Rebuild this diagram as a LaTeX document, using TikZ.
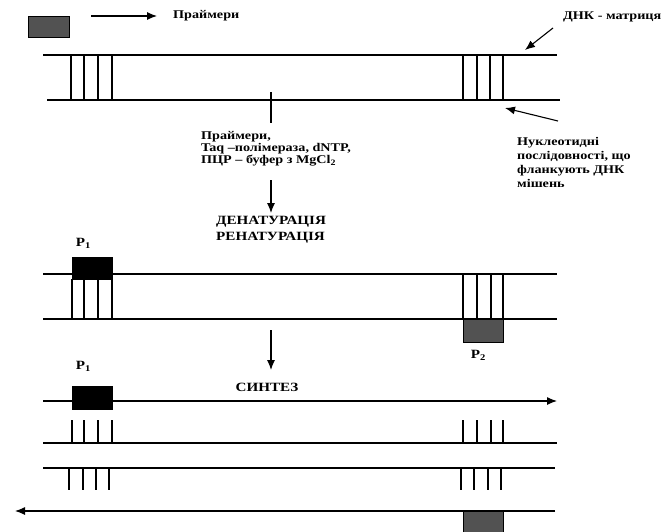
\documentclass[tikz,border=0pt]{standalone}
\usepackage{fontspec}
\setmainfont[FakeStretch=1.2]{Liberation Serif}
\usetikzlibrary{arrows.meta}
\begin{document}
\begin{tikzpicture}[x=1pt,y=-1pt,
  lbl/.style={font=\bfseries\fontsize{11.8}{12}\selectfont, inner sep=0pt, anchor=west},
  big/.style={font=\bfseries\fontsize{12.6}{16}\selectfont, inner sep=0pt},
  strand/.style={line width=1.1pt},
  rung/.style={line width=1.1pt},
  boxg/.style={draw=black, fill=black!68, line width=0.8pt, inner sep=0pt, anchor=north west},
  boxk/.style={draw=black, fill=black, line width=0.8pt, inner sep=0pt, anchor=north west},
  arr/.style={-{Latex[length=10pt,width=8pt]}, line width=1.1pt}]
\useasboundingbox (0,0) rectangle (667,531);
% legend
\node[boxg, minimum width=41pt, minimum height=21pt] (legbox) at (28,16) {};
\coordinate (la) at (91,16);
\node[lbl] (primers) at (173,16) {Праймери};
\draw[arr, shorten >=16pt] (la) -- (primers.west);
\node[lbl] (matrix) at (563,17) {ДНК - матриця};
\coordinate (ma) at (553,28);
\coordinate (mb) at (525,50);
\draw[arr] (ma) -- (mb);
% first duplex
\coordinate (t1a) at (43,55); \coordinate (t1b) at (557,55);
\coordinate (b1a) at (47,100); \coordinate (b1b) at (560,100);
\draw[strand] (t1a) -- (t1b);
\draw[strand] (b1a) -- (b1b);
\foreach \x in {71,84,98,112,463,477,490,503} \draw[rung] (\x,55) -- (\x,100);
\coordinate (tk1) at (271,92); \coordinate (tk2) at (271,123);
\draw[strand] (tk1) -- (tk2);
\coordinate (fa) at (558,121); \coordinate (fb) at (505,108);
\draw[arr] (fa) -- (fb);
\node[lbl, anchor=north west, align=left, font=\bfseries\fontsize{11.8}{12}\selectfont] (reagents) at (201,131) {Праймери,\\Taq –полімераза, dNTP,\\ПЦР – буфер з MgCl$_\mathbf{2}$};
\node[lbl, anchor=north west, align=left, font=\bfseries\fontsize{11.8}{14}\selectfont] (flank) at (517,137) {Нуклеотидні\\послідовності, що\\фланкують ДНК\\мішень};
\coordinate (d1) at (271,180); \coordinate (d2) at (271,213);
\draw[arr] (d1) -- (d2);
\node[big, anchor=north west, align=left] (denat) at (216,216) {ДЕНАТУРАЦІЯ\\РЕНАТУРАЦІЯ};
% second duplex
\node[big] (p1a) at (83,243) {P$_\mathbf{1}$};
\draw[strand] (43,274) -- (557,274);
\draw[strand] (43,319) -- (557,319);
\foreach \x in {72,84,98,112} \draw[rung] (\x,279) -- (\x,319);
\foreach \x in {463,477,491,503} \draw[rung] (\x,274) -- (\x,319);
\node[boxk, minimum width=40pt, minimum height=22pt] (pr1) at (72,257) {};
\node[boxg, minimum width=40pt, minimum height=23pt] (pr2) at (463,319) {};
\node[big] (p2) at (478,355) {P$_\mathbf{2}$};
\coordinate (s1) at (271,330); \coordinate (s2) at (271,370);
\draw[arr] (s1) -- (s2);
% synthesis
\node[big] (p1b) at (83,366) {P$_\mathbf{1}$};
\node[big] (synth) at (267,387) {СИНТЕЗ};
\coordinate (u1) at (43,401); \coordinate (u2) at (557,401);
\draw[arr] (u1) -- (u2);
\node[boxk, minimum width=40pt, minimum height=23pt] (pr3) at (72,386) {};
\draw[strand] (43,443) -- (557,443);
\foreach \x in {72,84,98,112,463,477,491,503} \draw[rung] (\x,420) -- (\x,443);
\draw[strand] (43,468) -- (555,468);
\foreach \x in {69,83,96,109,461,474,488,501} \draw[rung] (\x,468) -- (\x,490);
\coordinate (v1) at (555,511); \coordinate (v2) at (15,511);
\draw[arr] (v1) -- (v2);
\node[boxg, minimum width=40pt, minimum height=22pt] (pr4) at (463,511) {};
\end{tikzpicture}
\end{document}
